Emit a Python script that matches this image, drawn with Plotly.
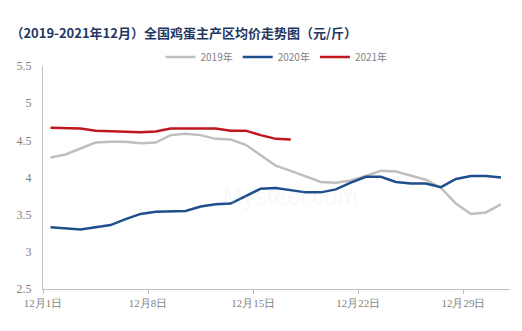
import plotly.graph_objects as go

# December days 1..31
days = list(range(1, 32))

price_2019 = [4.27, 4.31, 4.39, 4.47, 4.48, 4.48, 4.46, 4.47, 4.57, 4.59,
              4.57, 4.52, 4.51, 4.44, 4.30, 4.16, 4.09, 4.02, 3.94, 3.93,
              3.96, 4.02, 4.09, 4.08, 4.03, 3.97, 3.86, 3.65, 3.51, 3.53, 3.64]
price_2020 = [3.33, 3.32, 3.30, 3.33, 3.36, 3.44, 3.51, 3.54, 3.55, 3.55,
              3.61, 3.64, 3.65, 3.75, 3.85, 3.86, 3.83, 3.80, 3.80, 3.84,
              3.93, 4.01, 4.01, 3.94, 3.92, 3.92, 3.87, 3.98, 4.02, 4.02, 4.00]
price_2021 = [4.67, 4.67, 4.66, 4.63, 4.62, 4.61, 4.61, 4.62, 4.66, 4.66,
              4.66, 4.66, 4.63, 4.63, 4.57, 4.52, 4.51]

series_names = ["2019年", "2020年", "2021年"]
series_colors = ["#BFBFBF", "#1F4E8C", "#C0161E"]

x_tick_pos = [0.5, 7.5, 14.5, 21.5, 28.5]
x_tick_text = ["12月1日", "12月8日", "12月15日", "12月22日", "12月29日"]

y_tick_vals = [2.5, 3, 3.5, 4, 4.5, 5, 5.5]
y_tick_text = ["2.5", "3", "3.5", "4", "4.5", "5", "5.5"]

serif_font = "Liberation Serif"

fig = go.Figure()
for name, vals, color in zip(series_names, [price_2019, price_2020, price_2021], series_colors):
    fig.add_trace(go.Scatter(
        x=days[:len(vals)], y=vals, mode="lines", name=name,
        line=dict(color=color, width=2.5),
    ))

fig.update_layout(
    template="none",
    font=dict(family=serif_font, color="#7F7F7F"),
    width=522, height=331,
    margin=dict(l=43, r=12, t=66, b=42),
    paper_bgcolor="white", plot_bgcolor="white",
    title=dict(
        text="（2019-2021年12月）全国鸡蛋主产区均价走势图（元/斤）",
        x=0.02, xanchor="left", xref="container",
        y=0.9, yanchor="middle", yref="container",
        font=dict(family="Noto Sans CJK SC", size=13, color="#1F3864", weight="bold"),
    ),
    legend=dict(
        orientation="h", x=0.5, xanchor="center", y=1.04, yanchor="middle",
        font=dict(family="Noto Sans CJK SC", size=10, color="#7F7F7F"),
        itemwidth=30, tracegroupgap=0,
    ),
    xaxis=dict(
        range=[0.5, 31.6], tickmode="array", tickvals=x_tick_pos, ticktext=x_tick_text,
        showgrid=False, zeroline=False, showline=True, linecolor="#BFBFBF", linewidth=1,
        ticks="outside", ticklen=4, tickcolor="#BFBFBF",
        tickfont=dict(family=serif_font, size=11, color="#7F7F7F"),
    ),
    yaxis=dict(
        range=[2.5, 5.5], tickmode="array", tickvals=y_tick_vals, ticktext=y_tick_text,
        showgrid=False, zeroline=False, showline=True, linecolor="#BFBFBF", linewidth=1,
        ticks="", ticklabelstandoff=8,
        tickfont=dict(family=serif_font, size=12, color="#7F7F7F"),
    ),
    annotations=[dict(
        text="Mysteel.com", x=17, y=3.75, xref="x", yref="y", showarrow=False,
        font=dict(family="Liberation Sans", size=24, color="rgba(200,200,200,0.12)"),
    )],
)

fig.write_html("out.html")
